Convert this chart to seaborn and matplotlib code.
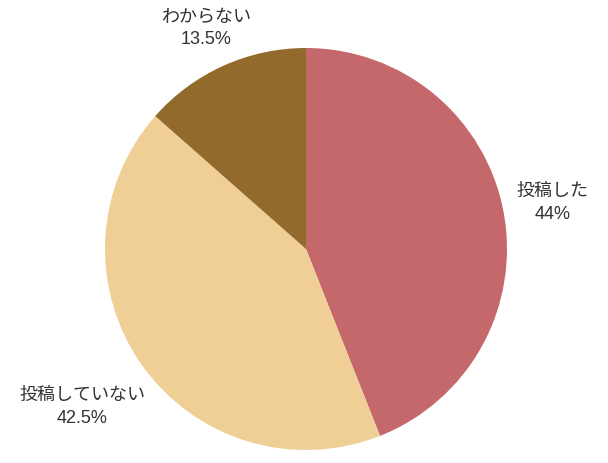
import numpy as np
import matplotlib.pyplot as plt
import seaborn as sns

labels = ['投稿した', '投稿していない', 'わからない']
values = [44, 42.5, 13.5]
pct_text = ['44%', '42.5%', '13.5%']
colors = sns.color_palette(['#C4686B', '#EFCF96', '#926A2C'])

sns.set_theme(style='white')
plt.rcParams['font.family'] = ['Liberation Sans', 'Noto Sans CJK JP', 'DejaVu Sans']

fig = plt.figure(figsize=(6.08, 4.64), dpi=100)
ax = fig.add_axes([105 / 608, 13 / 464, 402 / 608, 402 / 464])

wedges, _ = ax.pie(values, colors=colors, startangle=90, counterclock=False,
                   radius=1, wedgeprops=dict(linewidth=0))

# label centre distance from pie centre (in radii), one per slice
label_dist = [1.25, 1.36, 1.21]
for w, name, pct, d in zip(wedges, labels, pct_text, label_dist):
    mid = np.deg2rad((w.theta1 + w.theta2) / 2)
    ax.text(d * np.cos(mid), d * np.sin(mid), f'{name}\n{pct}',
            ha='center', va='center', multialignment='center',
            fontsize=13, color='#333333', linespacing=1.42)

ax.set_xlim(-1, 1)
ax.set_ylim(-1, 1)
ax.set_aspect('equal')
ax.axis('off')

fig.savefig('out.png', dpi=100)
